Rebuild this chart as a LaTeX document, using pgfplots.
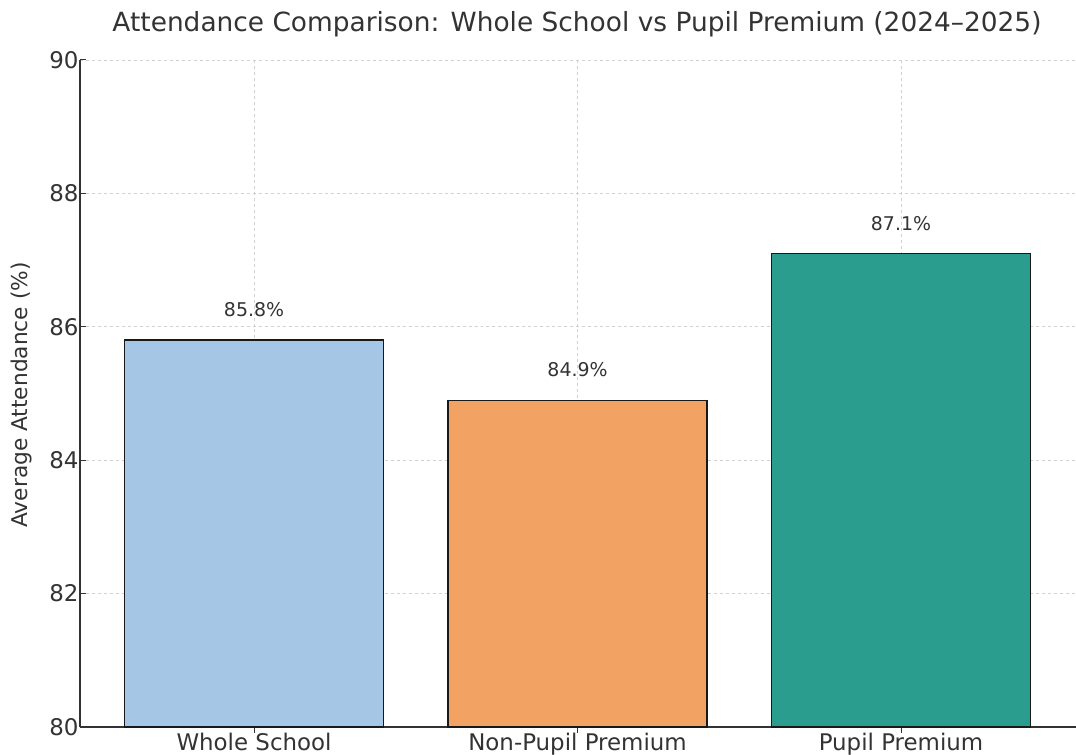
\documentclass[border=0pt]{standalone}
\usepackage{fontspec}
\setmainfont{DejaVu Sans}
\usepackage{pgfplots}
\pgfplotsset{compat=1.18}
\definecolor{cblue}{HTML}{A6C6E5}
\definecolor{corange}{HTML}{F2A262}
\definecolor{cteal}{HTML}{2A9D8F}
\definecolor{txt}{HTML}{333333}
\begin{document}
\begin{tikzpicture}[x=1bp,y=1bp]
\useasboundingbox (0,0) rectangle (1076,755);
\begin{axis}[
  at={(80bp,28bp)}, anchor=south west,
  scale only axis, width=996bp, height=667bp,
  xmin=-0.538, xmax=2.541, ymin=80, ymax=90,
  axis x line*=bottom, axis y line*=left,
  axis line style={line width=1.3pt, draw=black!80},
  xtick={0,1,2}, xticklabels={Whole School,Non-Pupil Premium,Pupil Premium},
  ytick={80,82,84,86,88,90},
  tick align=inside, major tick length=6bp,
  tick style={line width=1pt, draw=black!80},
  ticklabel style={font=\fontsize{23}{27}\selectfont, text=txt},
  /pgf/number format/assume math mode=true,
  yticklabel style={xshift=2bp},
  xticklabel style={yshift=3bp},
  grid=major, major grid style={dashed, draw=black!18, line width=0.8pt},
  ybar, bar width=0.8, bar shift=0pt,
  nodes near coords={\pgfmathprintnumber[fixed,precision=1,fixed zerofill]{\pgfplotspointmeta}\%},
  nodes near coords style={font=\fontsize{19}{23}\selectfont, text=txt, yshift=19bp},
  clip=false,
]
\addplot[fill=cblue, draw=black!90, line width=1.3pt] coordinates {(0,85.8)};
\addplot[fill=corange, draw=black!90, line width=1.3pt] coordinates {(1,84.9)};
\addplot[fill=cteal, draw=black!90, line width=1.3pt] coordinates {(2,87.1)};
\end{axis}
\node[font=\fontsize{26.5}{30}\selectfont, text=txt] at (577,731) {Attendance Comparison: Whole School vs Pupil Premium (2024–2025)};
\node[font=\fontsize{21.8}{26}\selectfont, text=txt, rotate=90] at (22,360) {Average Attendance (\%)};
\end{tikzpicture}
\end{document}
